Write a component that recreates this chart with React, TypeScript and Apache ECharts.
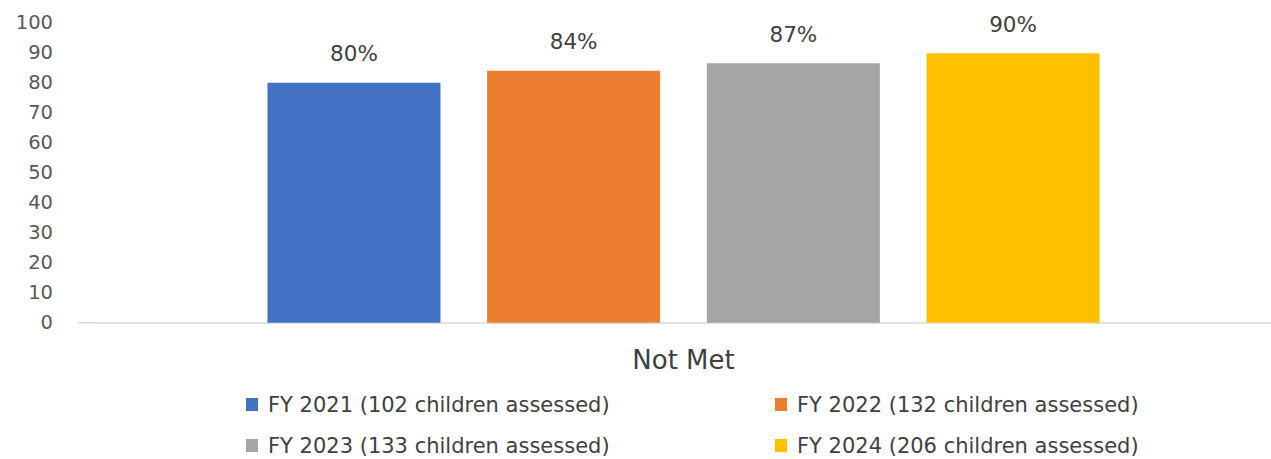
import React, { useEffect, useRef } from "react";
import * as echarts from "echarts";

const categories = ["Not Met"];
const seriesNames = [
  "FY 2021 (102 children assessed)",
  "FY 2022 (132 children assessed)",
  "FY 2023 (133 children assessed)",
  "FY 2024 (206 children assessed)",
];
const seriesValues = [80, 84, 86.5, 89.8];
const seriesColors = ["#4472C4", "#ED7D31", "#A5A5A5", "#FFC000"];
const yTicks = { min: 0, max: 100, interval: 10 };

const FONT = "'DejaVu Sans', sans-serif";

export default function App() {
  const ref = useRef<HTMLDivElement>(null);
  useEffect(() => {
    if (!ref.current) return;
    const chart = echarts.init(ref.current, null, { renderer: "svg" });
    const legendPos = [
      { left: 246, top: 394 },
      { left: 775, top: 394 },
      { left: 246, top: 435 },
      { left: 775, top: 435 },
    ];
    const gridLeft = 96;
    const gridBottom = 136.3;
    chart.setOption({
      animation: false,
      backgroundColor: "#ffffff",
      textStyle: { fontFamily: FONT },
      grid: { left: gridLeft, top: 22.7, right: 0, bottom: gridBottom, containLabel: false },
      graphic: [
        {
          type: "line",
          shape: { x1: 78, y1: 459 - gridBottom, x2: gridLeft + 1, y2: 459 - gridBottom },
          style: { stroke: "#D9D9D9", lineWidth: 1.5 },
          silent: true,
        },
      ],
      legend: seriesNames.map((n, i) => ({
        data: [n],
        left: legendPos[i].left,
        top: legendPos[i].top,
        icon: "rect",
        itemWidth: 12,
        itemHeight: 13,
        itemGap: 0,
        textStyle: { fontFamily: FONT, fontSize: 21, color: "#404040", padding: [0, 0, 0, 5] },
        padding: 0,
        selectedMode: false,
      })),
      xAxis: {
        type: "category",
        data: categories,
        axisLine: { show: true, lineStyle: { color: "#D9D9D9", width: 1.5 } },
        axisTick: { show: false },
        axisLabel: { fontFamily: FONT, fontSize: 26, color: "#404040", margin: 24 },
      },
      yAxis: {
        type: "value",
        min: yTicks.min,
        max: yTicks.max,
        interval: yTicks.interval,
        splitLine: { show: false },
        axisLine: { show: false },
        axisTick: { show: false },
        axisLabel: { fontFamily: FONT, fontSize: 19.5, color: "#595959", margin: 43 },
      },
      series: seriesNames.map((n, i) => ({
        name: n,
        type: "bar",
        data: [seriesValues[i]],
        barWidth: 173,
        barGap: "27%",
        itemStyle: { color: seriesColors[i] },
        label: {
          show: true,
          position: "top",
          distance: 18,
          fontFamily: FONT,
          fontSize: 21.5,
          color: "#404040",
          formatter: (p: any) => Math.round(p.value) + "%",
        },
      })),
    });
    return () => chart.dispose();
  }, []);
  return (
    <div
      ref={ref}
      style={{ position: "fixed", left: 0, top: 0, width: 1271, height: 459, overflow: "hidden" }}
    />
  );
}
